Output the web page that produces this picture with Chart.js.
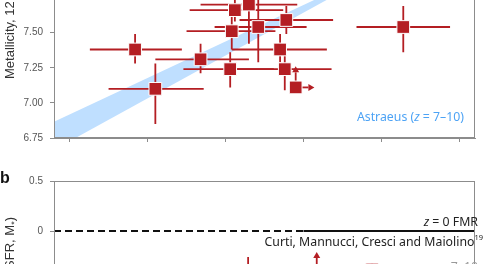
<!DOCTYPE html>
<html>
<head>
<meta charset="utf-8">
<script src="https://cdn.jsdelivr.net/npm/chart.js@4.4.1/dist/chart.umd.min.js"></script>
<style>
  html, body { margin: 0; padding: 0; background: #fff; }
  body { width: 485px; height: 264px; overflow: hidden; position: relative; }
  #topBox { position: absolute; left: 0; top: -156px; width: 485px; height: 307px; }
  #botBox { position: absolute; left: 0; top: 150px; width: 485px; height: 260px; }
</style>
</head>
<body>
<div id="topBox"><canvas id="metal"></canvas></div>
<div id="botBox"><canvas id="offset"></canvas></div>
<script>
// panel a - stellar mass vs metallicity
let massX   = [7.42, 7.55, 7.84, 8.03, 8.04, 8.06, 8.15, 8.21, 8.39, 8.35, 8.38, 9.14];
let massLo  = [7.13, 7.25, 7.55, 7.73, 7.75, 7.77, 7.84, 7.93, 8.09, 8.04, 8.07, 8.84];
let massHi  = [7.72, 7.86, 8.15, 8.31, 8.32, 8.37, 8.46, 8.52, 8.69, 8.65, 8.68, 9.44];
let metal   = [7.38, 7.10, 7.31, 7.24, 7.51, 7.66, 7.70, 7.54, 7.59, 7.38, 7.24, 7.54];
let metalLo = [7.28, 6.85, 7.21, 7.11, 7.38, 7.58, 7.42, 7.29, 7.49, 7.29, 7.09, 7.36];
let metalHi = [7.49, 7.28, 7.42, 7.36, 7.63, 7.76, 7.95, 7.80, 7.69, 7.49, 7.36, 7.69];

// lower limit point (arrows right and up)
let limX = [8.45], limY = [7.11], limXTo = [8.57], limYTo = [7.26];

// Astraeus band edges
let bandX     = [6.90, 8.75];
let bandUpper = [6.866, 7.826];
let bandLower = [6.666, 7.795];

// panel b - offset from the z = 0 FMR (only the top is visible)
let offX   = [8.145, 8.94];
let offY   = [-0.50, -0.385];
let offLo  = [-0.75, -0.45];
let offHi  = [-0.26, -0.32];
let offLimX = [8.585], offLimY = [-0.45], offLimTo = [-0.21];
let fmrDashX = [6.9, 8.5];
let fmrSolidX = [8.5, 9.6];

const RED = '#b41e23';
const AXIS = '#8c8c8c';
const TICKFONT = { family: 'Liberation Sans', size: 10 };
const NOTE = '12.3px "Noto Sans"';
const NOTE_I = 'italic 12.3px "Noto Sans"';

function arrow(ctx, x0, y0, x1, y1) {
  const a = Math.atan2(y1 - y0, x1 - x0), L = 6, W = 3.5;
  ctx.beginPath(); ctx.moveTo(x0, y0);
  ctx.lineTo(x1 - L * Math.cos(a), y1 - L * Math.sin(a)); ctx.stroke();
  ctx.beginPath();
  ctx.moveTo(x1, y1);
  ctx.lineTo(x1 - L * Math.cos(a) - W * Math.sin(a), y1 - L * Math.sin(a) + W * Math.cos(a));
  ctx.lineTo(x1 - L * Math.cos(a) + W * Math.sin(a), y1 - L * Math.sin(a) - W * Math.cos(a));
  ctx.closePath(); ctx.fill();
}

// draws runs of text one after another, [text, font, dy]
function runs(ctx, parts, x, y, align) {
  let total = 0;
  parts.forEach(p => { ctx.font = p[1]; total += ctx.measureText(p[0]).width; });
  let cx = align === 'right' ? x - total : x;
  ctx.textAlign = 'left';
  parts.forEach(p => {
    ctx.font = p[1];
    ctx.fillText(p[0], cx, y + (p[2] || 0));
    cx += ctx.measureText(p[0]).width;
  });
}

function frame(chart) {
  const a = chart.chartArea, ctx = chart.ctx;
  ctx.save();
  ctx.strokeStyle = AXIS; ctx.lineWidth = 1;
  ctx.strokeRect(Math.round(a.left) + 0.5, Math.round(a.top) + 0.5,
    Math.round(a.right - a.left) - 1, Math.round(a.bottom - a.top) - 1);
  ctx.restore();
}

const panelA = {
  id: 'panelA',
  beforeDatasetDraw(chart, args) {
    if (args.index !== 2) return;
    const ctx = chart.ctx, xs = chart.scales.x, ys = chart.scales.y;
    ctx.save();
    ctx.strokeStyle = RED; ctx.fillStyle = RED; ctx.lineWidth = 1.8;
    for (let i = 0; i < massX.length; i++) {
      const px = xs.getPixelForValue(massX[i]), py = ys.getPixelForValue(metal[i]);
      ctx.beginPath();
      ctx.moveTo(xs.getPixelForValue(massLo[i]), py);
      ctx.lineTo(xs.getPixelForValue(massHi[i]), py);
      ctx.moveTo(px, ys.getPixelForValue(metalLo[i]));
      ctx.lineTo(px, ys.getPixelForValue(metalHi[i]));
      ctx.stroke();
    }
    for (let i = 0; i < limX.length; i++) {
      const px = xs.getPixelForValue(limX[i]), py = ys.getPixelForValue(limY[i]);
      arrow(ctx, px, py, xs.getPixelForValue(limXTo[i]), py);
      arrow(ctx, px, py, px, ys.getPixelForValue(limYTo[i]));
    }
    ctx.restore();
  },
  afterDraw(chart) {
    const ctx = chart.ctx, ys = chart.scales.y;
    frame(chart);
    ctx.save();
    ctx.fillStyle = '#4da3f5';
    ctx.textBaseline = 'alphabetic';
    const by = ys.getPixelForValue(6.75) - 17;
    runs(ctx, [['Astraeus (', NOTE], ['z', NOTE_I], [' = 7\u201310)', NOTE]], 464, by, 'right');
    // y-axis title
    ctx.fillStyle = '#333';
    ctx.translate(14, ys.getPixelForValue(6.75) - 59);
    ctx.rotate(-Math.PI / 2);
    runs(ctx, [['Metallicity, 12 + log(O/H)', '13px "Liberation Sans"']], 0, 0, 'left');
    ctx.restore();
  }
};

const panelB = {
  id: 'panelB',
  beforeDatasetDraw(chart, args) {
    if (args.index !== 2) return;
    const ctx = chart.ctx, xs = chart.scales.x, ys = chart.scales.y;
    ctx.save();
    ctx.strokeStyle = RED; ctx.fillStyle = RED; ctx.lineWidth = 1.8;
    for (let i = 0; i < offX.length; i++) {
      const px = xs.getPixelForValue(offX[i]);
      ctx.beginPath();
      ctx.moveTo(px, ys.getPixelForValue(offLo[i]));
      ctx.lineTo(px, ys.getPixelForValue(offHi[i]));
      ctx.stroke();
    }
    for (let i = 0; i < offLimX.length; i++) {
      const px = xs.getPixelForValue(offLimX[i]);
      arrow(ctx, px, ys.getPixelForValue(offLimY[i]), px, ys.getPixelForValue(offLimTo[i]));
    }
    ctx.restore();
  },
  afterDraw(chart) {
    const ctx = chart.ctx, a = chart.chartArea, ys = chart.scales.y;
    frame(chart);
    const zy = ys.getPixelForValue(0);
    ctx.save();
    ctx.fillStyle = '#222';
    ctx.textBaseline = 'alphabetic';
    runs(ctx, [['z', NOTE_I], [' = 0 FMR', NOTE]], 478, zy - 5, 'right');
    runs(ctx, [['Curti, Mannucci, Cresci and Maiolino', NOTE], ['19', '7.5px "Noto Sans"', -6]], 483, zy + 15, 'right');
    ctx.fillStyle = '#999';
    runs(ctx, [['z', NOTE_I], [' = 7\u201310', NOTE]], 478, zy + 40, 'right');
    ctx.fillStyle = '#111';
    ctx.font = 'bold 16px "Liberation Sans"';
    ctx.textAlign = 'left';
    ctx.fillText('b', 0, a.top + 2);
    // y-axis title
    ctx.fillStyle = '#333';
    ctx.translate(14, a.top + 36);
    ctx.rotate(-Math.PI / 2);
    runs(ctx, [['\u0394log(O/H) \u2212 FMR(SFR, M', '13px "Liberation Sans"'], ['*', '9px "Liberation Sans"', 3], [')', '13px "Liberation Sans"']], 0, 0, 'right');
    ctx.restore();
  }
};

function xAxis() {
  return {
    type: 'linear', min: 6.9, max: 9.6,
    ticks: { display: false, stepSize: 0.5, includeBounds: false },
    grid: { drawOnChartArea: false, drawTicks: true, tickLength: 4, color: AXIS },
    border: { color: AXIS },
    afterFit: s => { s.height = 12; }
  };
}

function yAxis(min, max, step, fmt) {
  return {
    type: 'linear', min: min, max: max,
    ticks: { stepSize: step, includeBounds: false, color: '#555', font: TICKFONT, padding: 7, callback: fmt },
    grid: { drawOnChartArea: false, drawTicks: true, tickLength: 4, color: AXIS },
    border: { color: AXIS },
    afterFit: s => { s.width = 54; }
  };
}

const baseOpts = {
  responsive: true,
  maintainAspectRatio: false,
  animation: false,
  plugins: { legend: { display: false }, tooltip: { enabled: false } }
};

new Chart(document.getElementById('metal'), {
  type: 'scatter',
  data: {
    datasets: [
      { type: 'line', data: bandX.map((x, i) => ({ x: x, y: bandUpper[i] })), borderWidth: 0, pointRadius: 0,
        backgroundColor: '#bfdfff', fill: '+1', order: 3 },
      { type: 'line', data: bandX.map((x, i) => ({ x: x, y: bandLower[i] })), borderWidth: 0, pointRadius: 0,
        fill: false, order: 3 },
      { data: massX.map((x, i) => ({ x: x, y: metal[i] })).concat(limX.map((x, i) => ({ x: x, y: limY[i] }))),
        pointStyle: 'rect', pointRadius: 9, backgroundColor: RED, borderColor: '#fff', borderWidth: 1, order: 1 }
    ]
  },
  options: Object.assign({}, baseOpts, {
    layout: { padding: { top: 10, right: 1, left: 0, bottom: 0 } },
    scales: {
      x: xAxis(),
      y: yAxis(6.75, 8.75, 0.25, v => v.toFixed(2))
    }
  }),
  plugins: [panelA]
});

new Chart(document.getElementById('offset'), {
  type: 'scatter',
  data: {
    datasets: [
      { type: 'line', data: fmrDashX.map(x => ({ x: x, y: 0 })), borderColor: '#111', borderWidth: 2,
        borderDash: [7, 4], pointRadius: 0, order: 3 },
      { type: 'line', data: fmrSolidX.map(x => ({ x: x, y: 0 })), borderColor: '#111', borderWidth: 2,
        pointRadius: 0, order: 3 },
      { data: offX.map((x, i) => ({ x: x, y: offY[i] })).concat(offLimX.map((x, i) => ({ x: x, y: offLimY[i] }))),
        pointStyle: 'rect', pointRadius: 9, backgroundColor: RED, borderColor: '#fff', borderWidth: 1, order: 1 }
    ]
  },
  options: Object.assign({}, baseOpts, {
    layout: { padding: { top: 31, right: 1, left: 0, bottom: 17 } },
    scales: {
      x: xAxis(),
      y: yAxis(-1.5, 0.5, 0.5, v => v === 0 ? '0' : (v < 0 ? '\u2212' + Math.abs(v) : String(v)))
    }
  }),
  plugins: [panelB]
});
</script>
</body>
</html>
